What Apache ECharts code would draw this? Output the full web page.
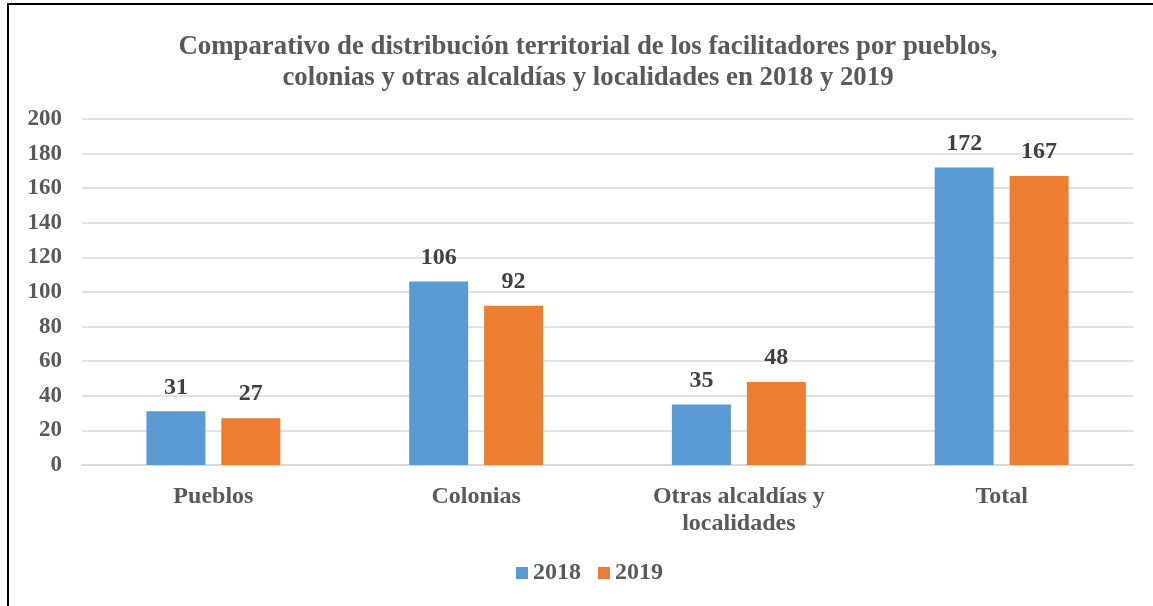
<!DOCTYPE html>
<html>
<head>
<meta charset="utf-8">
<script src="https://cdn.jsdelivr.net/npm/echarts@6/dist/echarts.min.js"></script>
<style>
html, body { margin: 0; padding: 0; background: #fff; }
#frame { position: absolute; left: 7px; top: 3px; width: 1146px; height: 603px; border-top: 2px solid #000; border-left: 2px solid #000; }
#echart1 { position: absolute; left: 0; top: 0; width: 1153px; height: 606px; }
</style>
</head>
<body>
<div id="echart1"></div>
<div id="frame"></div>
<script>
var categories = ['Pueblos', 'Colonias', 'Otras alcaldías y\nlocalidades', 'Total'];
var years = ['2018', '2019'];
var values2018 = [31, 106, 35, 172];
var values2019 = [27, 92, 48, 167];
var yTicks = { min: 0, max: 200, interval: 20 };

var serif = '"Liberation Serif", "Times New Roman", serif';
var mychart1 = echarts.init(document.getElementById('echart1'));

function barSeries(name, data, color) {
    return {
        name: name,
        type: 'bar',
        barWidth: 59,
        barGap: '27%',
        itemStyle: { color: color },
        label: {
            show: true,
            position: 'top',
            distance: 12,
            fontFamily: serif,
            fontWeight: 'bold',
            fontSize: 24,
            color: '#404040'
        },
        data: data
    };
}

var o = {
    animation: false,
    title: {
        left: 583,
        textAlign: 'center',
        top: 27,
        text: 'Comparativo de distribución territorial de los facilitadores por pueblos,\ncolonias y otras alcaldías y localidades en 2018 y 2019',
        textStyle: {
            fontFamily: serif,
            fontWeight: 'bold',
            fontSize: 26.8,
            lineHeight: 31,
            color: '#595959'
        }
    },
    legend: {
        bottom: 16,
        left: 511,
        itemWidth: 12,
        itemHeight: 12,
        itemGap: 17,
        icon: 'rect',
        textStyle: {
            fontFamily: serif,
            fontWeight: 'bold',
            fontSize: 24,
            color: '#595959'
        },
        data: years
    },
    grid: {
        top: 119,
        left: 82,
        right: 20,
        bottom: 141,
        containLabel: false
    },
    xAxis: {
        type: 'category',
        data: categories,
        axisLine: { lineStyle: { color: '#d9d9d9', width: 2 } },
        axisTick: { show: false },
        axisLabel: {
            margin: 18,
            interval: 0,
            fontFamily: serif,
            fontWeight: 'bold',
            fontSize: 24,
            lineHeight: 27,
            color: '#595959'
        }
    },
    yAxis: {
        type: 'value',
        min: yTicks.min,
        max: yTicks.max,
        interval: yTicks.interval,
        axisLine: { show: false },
        axisTick: { show: false },
        splitLine: { lineStyle: { color: '#d9d9d9', width: 1.5 } },
        axisLabel: {
            margin: 20,
            fontFamily: serif,
            fontWeight: 'bold',
            fontSize: 23,
            color: '#595959'
        }
    },
    series: [
        barSeries(years[0], values2018, '#5b9bd5'),
        barSeries(years[1], values2019, '#ed7d31')
    ]
};
mychart1.setOption(o);
</script>
</body>
</html>
